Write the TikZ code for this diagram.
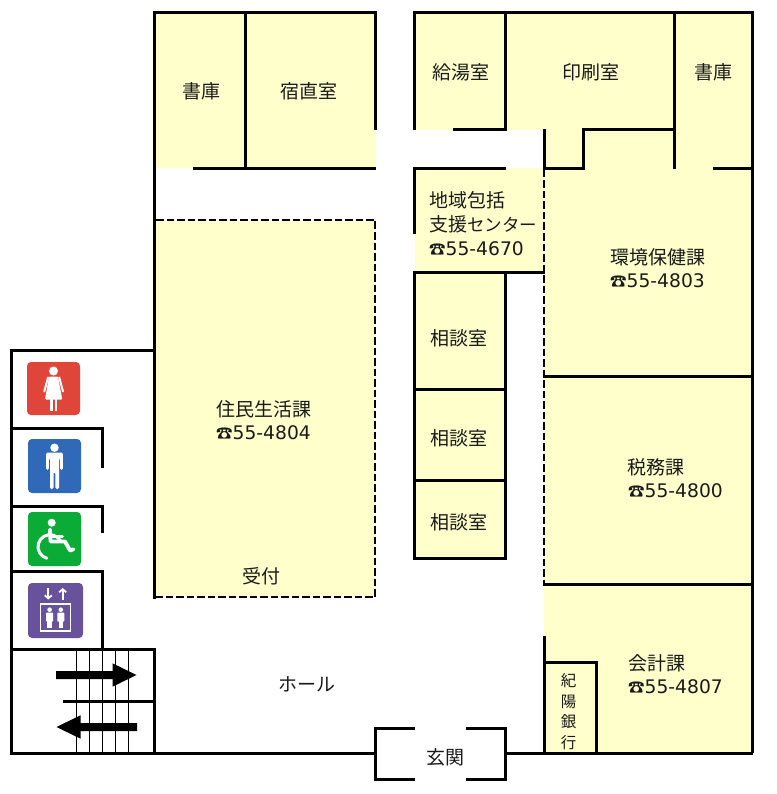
\documentclass[tikz,border=0pt]{standalone}
\usepackage{fontspec}
\setmainfont{Noto Sans CJK JP}
\newfontfamily\telfont{DejaVu Sans}
\newfontfamily\phonefont{Noto Sans CJK JP Bold}
\usetikzlibrary{arrows.meta}
\definecolor{roomfill}{HTML}{FFFFCC}
\definecolor{wcred}{HTML}{E0453A}
\definecolor{wcblue}{HTML}{2F69B8}
\definecolor{wcgreen}{HTML}{0AAB36}
\definecolor{wcpurple}{HTML}{67529B}
\definecolor{labelc}{HTML}{1A1A1A}
\newcommand{\tel}[1]{{\phonefont\fontsize{16.5}{16.5}\selectfont ☎}{\telfont\fontsize{18.7}{18.7}\selectfont #1}}
\tikzset{
  x=1pt,y=-1pt,
  room/.style={fill=roomfill,draw=none},
  wall/.style={draw=black,line width=3pt,line join=miter},
  dashwall/.style={draw=black,line width=2.6pt,dash pattern=on 7.5pt off 3pt},
  stair/.style={draw=black,line width=1pt},
  lab/.style={inner sep=0pt,text=labelc,font=\fontsize{19}{19}\selectfont,text height=15pt,text depth=0pt},
  labw/.style={lab,anchor=west},
  small/.style={lab,font=\fontsize{15.5}{15.5}\selectfont,text height=11pt},
  sign/.style={rounded corners=4pt},
  wht/.style={fill=white,draw=none},
  whl/.style={draw=white,line width=3pt,line cap=round,line join=round},
  bigarrow/.style={fill=black,draw=none}
}
\begin{document}
\begin{tikzpicture}
\useasboundingbox (0,0) rectangle (776,794);
% room fills
\fill[room] (154,12) rectangle (376,168.5);
\fill[room] (415,12) rectangle (752,130);
\fill[room] (544,130) rectangle (752,752);
\fill[room] (415,168) rectangle (544,272);
\fill[room] (415,272) rectangle (506,558);
\fill[room] (154,220) rectangle (375,597);
% left block
\draw[wall] (154.5,598.5) -- (154.5,11) ;
\draw[wall] (153,12.5) -- (375.5,12.5) -- (375.5,130);
\draw[wall] (245.5,12.5) -- (245.5,168.5);
\draw[wall] (193,168.5) -- (376,168.5);
\draw[dashwall] (156,220) -- (375,220) -- (375,597) -- (156,597);
% right block
\draw[wall] (414.5,130) -- (414.5,12.5) -- (752.5,12.5) -- (752.5,753);
\draw[wall] (505.5,12.5) -- (505.5,129.5) -- (453,129.5);
\draw[wall] (674.5,12.5) -- (674.5,169);
\draw[wall] (544.5,129) -- (544.5,168.5) -- (583.5,168.5) -- (583.5,129.5) -- (674.5,129.5);
\draw[wall] (713,168.5) -- (752.5,168.5);
\draw[wall] (506,168.5) -- (414.5,168.5) -- (414.5,234);
\draw[wall] (544.5,272.5) -- (414.5,272.5) -- (414.5,558.5) -- (505.5,558.5) -- (505.5,272.5);
\draw[wall] (414.5,389.5) -- (505.5,389.5);
\draw[wall] (414.5,480.5) -- (505.5,480.5);
\draw[dashwall] (544,170) -- (544,584);
\draw[wall] (543,376.5) -- (752.5,376.5);
\draw[wall] (543,584.5) -- (752.5,584.5);
\draw[wall] (544.5,636) -- (544.5,753);
\draw[wall] (544.5,662.5) -- (596.5,662.5) -- (596.5,753);
% toilets, lift, stairs
\draw[wall] (154.5,350.5) -- (11.5,350.5) -- (11.5,753) -- (375.5,753);
\draw[wall] (11.5,428.5) -- (102.5,428.5) -- (102.5,468);
\draw[wall] (11.5,506.5) -- (102.5,506.5) -- (102.5,533);
\draw[wall] (11.5,571.5) -- (102.5,571.5) -- (102.5,649);
\draw[wall] (11.5,649.5) -- (154.5,649.5) -- (154.5,753);
\draw[line width=2.4pt] (63,701.5) -- (155,701.5);
\foreach \sx in {76.7,89.6,102.7,115.7,128.7}
  \draw[stair] (\sx,650) -- (\sx,752);
\fill[bigarrow] (56,671) -- (112.5,671) -- (112.5,663.3) -- (136.5,675) -- (112.5,686.7) -- (112.5,679) -- (56,679) -- cycle;
\fill[bigarrow] (137,723) -- (80.5,723) -- (80.5,715.3) -- (56.5,727) -- (80.5,738.7) -- (80.5,731) -- (137,731) -- cycle;
% entrance
\draw[wall] (415,728) -- (375.5,728) -- (375.5,779) -- (415,779);
\draw[wall] (466,728) -- (505.5,728) -- (505.5,779) -- (466,779);
\draw[wall] (505.5,753) -- (752.5,753);
% woman sign
\fill[wcred,sign] (27,362) rectangle (80,415);
\fill[wht] (53.5,371) circle (4.5);
\fill[wht,rounded corners=1pt] (49,376.5) -- (58,376.5) -- (62.3,399.5) -- (45,399.5) -- cycle;
\fill[wht] (50,399) rectangle (52.7,411);
\fill[wht] (54.6,399) rectangle (57.3,411);
\draw[whl,line width=2pt] (48,377.5) -- (44.3,391.5);
\draw[whl,line width=2pt] (59.3,377.5) -- (63,391.5);
% man sign
\fill[wcblue,sign] (28,439) rectangle (81,493);
\fill[wht] (54.5,447.7) circle (4.2);
\fill[wht,rounded corners=1.5pt] (46.2,470) -- (46.2,452.5) -- (62.8,452.5) -- (62.8,470) -- (60.2,470) -- (60.2,458) -- (59,458) -- (59,489) -- (55.3,489) -- (55.3,472) -- (53.7,472) -- (53.7,489) -- (50,489) -- (50,458) -- (48.8,458) -- (48.8,470) -- cycle;
% wheelchair sign
\fill[wcgreen,sign] (28,512) rectangle (81,566);
\fill[wht] (51.7,522.7) circle (4);
\draw[whl,line width=3.8pt] (50,529.5) -- (50.5,541.5) -- (65,541.5) -- (70,550.5) -- (73.5,549.3);
\draw[whl,line width=2.6pt] (51,536.5) -- (62.5,536.5);
\draw[whl] (50,546.7) ++(105:12) arc[start angle=105,end angle=330,radius=12];
% lift sign
\fill[wcpurple,sign] (28,583) rectangle (83,638);
\draw[white,line width=1.6pt] (40.5,604) rectangle (70.5,631);
\draw[white,line width=1.8pt,-{Straight Barb[length=3pt,width=7pt]}] (48.3,587.5) -- (48.3,599.5);
\draw[white,line width=1.8pt,-{Straight Barb[length=3pt,width=7pt]}] (62.7,600) -- (62.7,588);
\foreach \px in {49.6,60.8}{
  \fill[wht] (\px,609.7) circle (2.3);
  \fill[wht,rounded corners=.7pt] (\px-3.5,612.6) rectangle (\px+3.5,621.5);
  \fill[wht] (\px-2.2,620) rectangle (\px+2.2,628);
}
% labels
\node[lab] (shoko1) at (201,91) {書庫};
\node[lab] (shukuchoku) at (309,91) {宿直室};
\node[lab] (kyuto) at (461,72) {給湯室};
\node[lab] (insatsu) at (591,72) {印刷室};
\node[lab] (shoko2) at (713,72) {書庫};
\node[labw] (chiiki1) at (429,200) {地域包括};
\node[labw] (chiiki2) at (429,224) {支援{\fontsize{17.5}{17.5}\selectfont センター}};
\node[labw] (chiiki3) at (429,248) {\tel{55-4670}};
\node[labw] (kankyo1) at (610,257) {環境保健課};
\node[labw] (kankyo2) at (610,280) {\tel{55-4803}};
\node[lab] (sodan1) at (459,338) {相談室};
\node[lab] (sodan2) at (459,438) {相談室};
\node[lab] (sodan3) at (459,522) {相談室};
\node[labw] (jumin1) at (216,409) {住民生活課};
\node[labw] (jumin2) at (216,432) {\tel{55-4804}};
\node[lab] (uketsuke) at (261,576) {受付};
\node[lab] (zeimu1) at (656,467) {税務課};
\node[labw] (zeimu2) at (628,490) {\tel{55-4800}};
\node[labw] (kaikei1) at (628,663) {会計課};
\node[labw] (kaikei2) at (628,686) {\tel{55-4807}};
\node[small] (kiyo1) at (568.5,680.5) {紀};
\node[small] (kiyo2) at (568.5,701.5) {陽};
\node[small] (kiyo3) at (568.5,722) {銀};
\node[small] (kiyo4) at (568.5,743) {行};
\node[lab] (hall) at (307,684) {ホール};
\node[lab] (genkan) at (445,757) {玄関};
\end{tikzpicture}
\end{document}
